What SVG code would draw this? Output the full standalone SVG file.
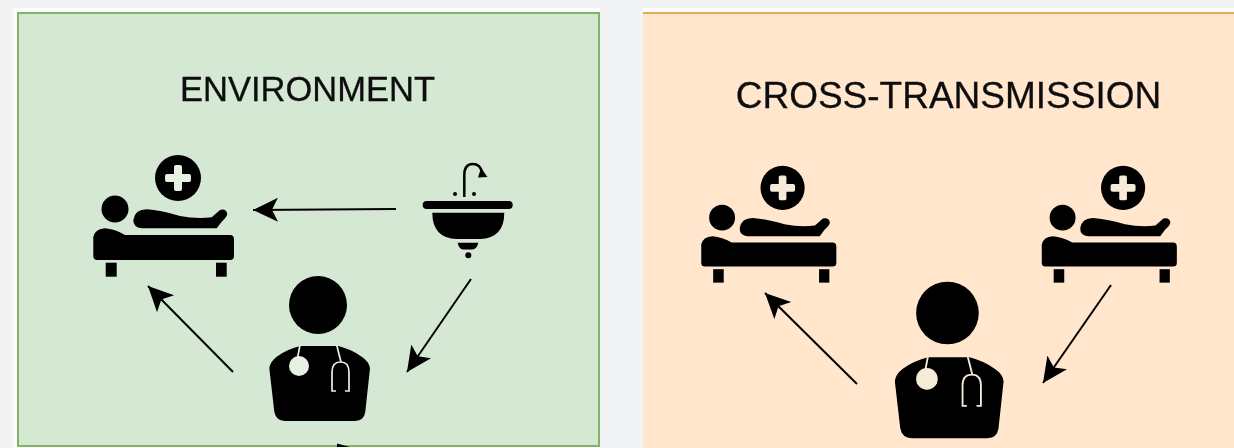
<svg xmlns="http://www.w3.org/2000/svg" width="1234" height="448" viewBox="0 0 1234 448">
<style>
.title{font-family:"Liberation Sans",Arial,sans-serif;fill:#111;stroke:#111;stroke-width:0.3;text-anchor:middle}
.conn{stroke:#000;stroke-width:2;fill:none;marker-end:url(#arrow)}
.ink{fill:#000}
.env{color:#e6f1e4}
.crs{color:#f6ead9}
</style>
<defs>
<filter id="soft" x="-5%" y="-5%" width="110%" height="110%"><feGaussianBlur stdDeviation="0.7"/></filter>
<marker id="arrow" markerUnits="userSpaceOnUse" markerWidth="26" markerHeight="26" refX="25" refY="12" orient="auto">
<path d="M0,0 L25,12 L0,24 L6,12 Z" fill="#000"/>
</marker>
<g id="bed-icon">
<circle class="ink" cx="178" cy="178" r="23"/>
<rect x="165" y="174" width="26" height="8" rx="2" fill="currentColor"/>
<rect x="174" y="165" width="8" height="26" rx="2" fill="currentColor"/>
<circle class="ink" cx="115" cy="209" r="13.5"/>
<path class="ink" d="M133.3,220 Q135,209.3 146.7,209.3 Q160,210 180,216 Q196.7,219.3 211.7,217.3 L220,210 Q226,208.3 227.3,214 Q226.7,217.3 221.7,221.7 L216.7,228.3 H141.7 Q133.3,227.7 133.3,220 Z"/>
<path class="ink" d="M93.3,236.7 Q95,229 105,228.3 Q115,229 125,235 L230,235 Q234,235 234,239.3 V256 Q234,260 230,260 H97.3 Q93.3,260 93.3,256 Z"/>
<rect class="ink" x="105.7" y="262.7" width="11" height="14"/>
<rect class="ink" x="216" y="262.7" width="10.7" height="14"/>
</g>
<g id="doctor-icon">
<circle class="ink" cx="318" cy="305" r="29"/>
<path class="ink" d="M269.3,368.3 Q270,361.7 276.7,356.7 Q286.7,349.3 300,346 L338.3,346 Q351.7,349.3 361.7,356.7 Q369.3,361.7 370,368.3 L365.3,411.7 Q364,420.7 355,421 L285,421 Q276,420.7 274.3,411.7 Z"/>
<circle cx="299" cy="366" r="10" fill="currentColor"/>
<path d="M300,345 L297.5,358 M336.7,345 L341,362 M336,391 H332 V372 Q332,362 340.500,362 Q349,362 349,372 V391 H345" fill="none" stroke="currentColor" stroke-width="1.7"/>
</g>
</defs>
<rect width="1234" height="448" fill="#f2f3f5"/>
<rect x="13" y="8" width="587" height="440" fill="#fbfcfb"/>
<rect x="643" y="8" width="591" height="440" fill="#fbfcfb"/>
<g id="panel-environment">
<rect x="18" y="13" width="581" height="433" fill="#d5e8d4" stroke="#82b366" stroke-width="2"/>
</g>
<g id="panel-cross-transmission">
<rect x="643" y="13" width="591" height="435" fill="#ffe6cc"/>
<path d="M643,13 H1234" stroke="#e0ad52" stroke-width="2"/>
</g>
<g filter="url(#soft)">
<g id="title-environment"><text class="title" font-size="34.500" x="307.500" y="101">ENVIRONMENT</text></g>
<g id="title-cross"><text class="title" font-size="37" x="948.500" y="108">CROSS-TRANSMISSION</text></g>
<g id="patient-env" class="env"><use href="#bed-icon"/></g>
<g id="sink-env">
<rect class="ink" x="422.700" y="201" width="90" height="8" rx="4"/>
<path class="ink" d="M432.300,212.700 H504.300 Q504.300,238 480,239 H456.700 Q432.300,238 432.300,212.700 Z"/>
<path class="ink" d="M457.700,242.700 H478.300 Q477,249 472,249.500 H463 Q459,249 457.700,242.700 Z"/>
<circle class="ink" cx="468.300" cy="255.300" r="3"/>
<circle class="ink" cx="455" cy="194" r="2"/>
<circle class="ink" cx="474" cy="194" r="2"/>
<path d="M464.300,197 V175 Q464.300,164 473,164 Q480,164 482,172" fill="none" stroke="#000" stroke-width="2.500"/>
<path class="ink" d="M478,177.500 L487.500,177 L481,168 Z"/>
</g>
<g id="doctor-env" class="env"><use href="#doctor-icon"/></g>
<g id="patient-cross-a" class="crs"><use href="#bed-icon" transform="translate(611.700,17) scale(0.96)"/></g>
<g id="patient-cross-b" class="crs"><use href="#bed-icon" transform="translate(952.200,17) scale(0.96)"/></g>
<g id="doctor-cross" class="crs"><use href="#doctor-icon" transform="translate(604,-16.400) scale(1.08)"/></g>
<g id="connectors">
<path class="conn" d="M396,209 L253,210"/>
<path class="conn" d="M471,279 L407,372"/>
<path class="conn" d="M233,372 L148,286"/>
<path class="conn" d="M857,384 L765,293"/>
<path class="conn" d="M1111,285 L1043,383"/>
<path d="M337,443.500 L350,447 L337,447 Z" fill="#000"/>
</g>
</g>
</svg>
